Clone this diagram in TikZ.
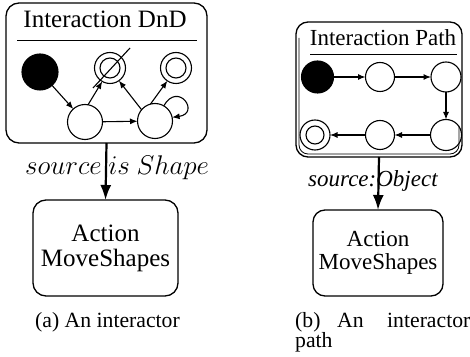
\RequirePackage{fix-cm}
\documentclass[tikz,border=0pt]{standalone}
\usepackage{fontspec}
\setmainfont{Liberation Serif}
\usetikzlibrary{arrows.meta}
\begin{document}
\begin{tikzpicture}[x=1pt,y=1pt,
  frame/.style={draw,line width=1.3pt,rounded corners=13pt,inner sep=0pt,outer sep=0pt},
  st/.style={circle,draw,line width=1.1pt,inner sep=0pt,outer sep=0pt},
  ini/.style={st,fill=black},
  sarr/.style={line width=1.1pt,-{Latex[length=7.5pt,width=6pt]}},
  barr/.style={line width=2.2pt,-{Latex[length=15pt,width=11pt]}},
  rule/.style={line width=1pt},
  lbl/.style={inner sep=0pt,anchor=base}]
\useasboundingbox (0,0) rectangle (470,356);

% ---------- (a) ----------
\node[frame,minimum width=201pt,minimum height=140pt] (box1) at (106.5,283) {};
\node[lbl,font=\fontsize{25}{30}\selectfont] (t1) at (105,328) {Interaction DnD};
\coordinate (r1a) at (17,315);
\coordinate (r1b) at (197,315);
\draw[rule] (r1a) -- (r1b);
\node[ini,minimum size=36pt] (b1) at (40,284) {};
\node[st,minimum size=31pt] (s1) at (110,288) {};
\draw[line width=1.1pt] (s1.center) circle[radius=10];
\draw[line width=1.1pt] ([shift={(-17,-20)}]s1.center) -- ([shift={(20,20)}]s1.center);
\node[st,minimum size=31pt] (f1) at (176,288) {};
\draw[line width=1.1pt] (f1.center) circle[radius=10];
\node[st,minimum size=35pt] (q1) at (85,234) {};
\node[st,minimum size=35pt] (q2) at (155,235) {};
\draw[sarr] (b1) -- (q1);
\draw[sarr] (q1.80) -- (s1.240);
\draw[sarr] (q2.140) -- (s1.305);
\draw[sarr] (q1) -- (q2);
\draw[sarr] (q2.105) -- (f1.236);
\draw[sarr] (q2.60) .. controls +(60:29) and +(8:29) .. (q2.12);

\node[frame,minimum width=145pt,minimum height=96pt,align=center,
  font=\fontsize{25}{25}\selectfont] (act1) at (105.5,108) {Action\\MoveShapes};
\node[lbl,anchor=base west,font=\fontsize{27}{30}\selectfont] (l1) at (25,181) {$source\ is\ Shape$};
\draw[barr] (box1.south) -- (act1.north);
\node[lbl,anchor=base west,font=\fontsize{21.7}{26}\selectfont] (c1) at (35,29) {(a) An interactor};

% ---------- (b) ----------
\node[frame,rounded corners=12pt,minimum width=166pt,minimum height=135pt] (box2) at (379,266.5) {};
\coordinate (in1) at (299,318);
\coordinate (in2) at (299,202);
\coordinate (in3) at (459,202);
\coordinate (in4) at (459,230);
\draw[line width=0.8pt,rounded corners=9pt] (in1) -- (in2) -- (in3) -- (in4);
\node[lbl,font=\fontsize{23}{28}\selectfont] (t2) at (383,310) {Interaction Path};
\coordinate (r2a) at (310,301);
\coordinate (r2b) at (457,301);
\draw[rule] (r2a) -- (r2b);
\node[ini,minimum size=32pt] (b2) at (317.5,279) {};
\node[st,minimum size=29pt] (c2) at (380,279) {};
\node[st,minimum size=30pt] (c3) at (446,279) {};
\node[st,minimum size=30pt] (d2) at (315,221) {};
\draw[line width=1.1pt] (d2.center) circle[radius=9];
\node[st,minimum size=29pt] (c5) at (380,221) {};
\node[st,minimum size=31pt] (c6) at (446,221) {};
\draw[sarr] (b2) -- (c2);
\draw[sarr] (c2) -- (c3);
\draw[sarr] (c3) -- (c6);
\draw[sarr] (c6) -- (c5);
\draw[sarr] (c5) -- (d2);

\node[frame,rounded corners=12pt,minimum width=130pt,minimum height=86pt,align=center,
  font=\fontsize{23}{23}\selectfont] (act2) at (378,103) {Action\\MoveShapes};
\node[lbl,anchor=base west,font=\fontsize{23}{28}\selectfont\itshape] (l2) at (308,169) {source:Object};
\draw[barr] (box2.south) -- (act2.north);
\node[lbl,anchor=base west,font=\fontsize{21.7}{26}\selectfont] (c2a) at (295,29) {(b)};
\node[lbl,anchor=base west,font=\fontsize{21.7}{26}\selectfont] (c2b) at (337,29) {An};
\node[lbl,anchor=base west,font=\fontsize{21.7}{26}\selectfont] (c2c) at (387,29) {interactor};
\node[lbl,anchor=base west,font=\fontsize{21.7}{26}\selectfont] (c2d) at (295,9) {path};
\end{tikzpicture}
\end{document}
